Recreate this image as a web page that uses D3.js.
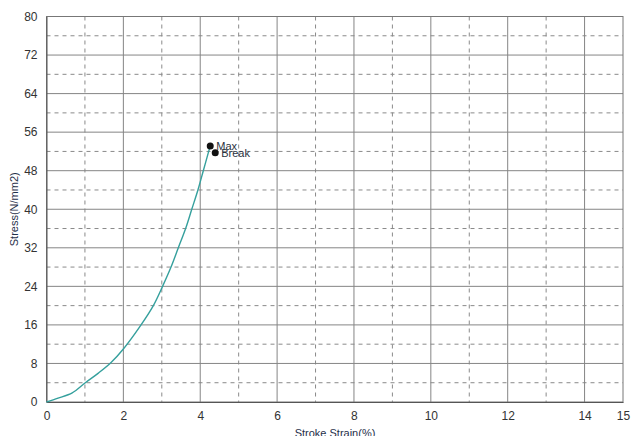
<!DOCTYPE html>
<html>
<head>
<meta charset="utf-8">
<script src="https://cdn.jsdelivr.net/npm/d3@7"></script>
<style>
  body { margin: 0; background: #fff; }
  text { font-family: "Liberation Sans", Arial, sans-serif; }
</style>
</head>
<body>
<svg id="chart" width="631" height="436"></svg>
<script>
// curve values (strain %, stress N/mm2)
const strain = [0, 0.3, 0.67, 1.01, 1.35, 1.68, 2.0, 2.46, 2.78, 3.02, 3.24, 3.43, 3.62, 3.78, 3.94, 4.08, 4.22, 4.26];
const stress = [0, 0.8, 1.9, 4.0, 6.0, 8.2, 11.0, 16.0, 20.0, 24.0, 28.0, 32.0, 36.0, 40.0, 44.0, 48.0, 52.0, 53.1];
const markers = [
  { name: "Max", x: 4.26, y: 53.1 },
  { name: "Break", x: 4.39, y: 51.7 }
];
const xTicks = [0, 2, 4, 6, 8, 10, 12, 14, 15];
const yTicks = [0, 8, 16, 24, 32, 40, 48, 56, 64, 72, 80];
const xMinor = [1, 3, 5, 7, 9, 11, 13];
const yMinor = [4, 12, 20, 28, 36, 44, 52, 60, 68, 76];

const mLeft = 46.5, mRight = 623, mTop = 16.5, mBottom = 402;

const svg = d3.select("#chart");
const x = d3.scaleLinear().domain([0, 15]).range([mLeft, mRight]);
const y = d3.scaleLinear().domain([0, 80]).range([mBottom, mTop]);

const grid = svg.append("g");

// dashed minor grid
grid.selectAll(".vx").data(xMinor).join("line")
  .attr("x1", d => x(d)).attr("x2", d => x(d))
  .attr("y1", mTop).attr("y2", mBottom)
  .attr("stroke", "#8a8a8a").attr("stroke-dasharray", "4,4");
grid.selectAll(".hy").data(yMinor).join("line")
  .attr("x1", mLeft).attr("x2", mRight)
  .attr("y1", d => y(d)).attr("y2", d => y(d))
  .attr("stroke", "#8a8a8a").attr("stroke-dasharray", "4,4");

// solid major grid
grid.selectAll(".mx").data(xTicks.filter(d => d > 0 && d < 15)).join("line")
  .attr("x1", d => x(d)).attr("x2", d => x(d))
  .attr("y1", mTop).attr("y2", mBottom)
  .attr("stroke", "#858585");
grid.selectAll(".my").data(yTicks.filter(d => d > 0 && d < 80)).join("line")
  .attr("x1", mLeft).attr("x2", mRight)
  .attr("y1", d => y(d)).attr("y2", d => y(d))
  .attr("stroke", "#858585");

// frame
svg.append("rect")
  .attr("x", mLeft).attr("y", mTop)
  .attr("width", mRight - mLeft).attr("height", mBottom - mTop)
  .attr("fill", "none").attr("stroke", "#777");

// axes (labels only)
const xAxis = svg.append("g")
  .attr("transform", `translate(0,${mBottom})`)
  .call(d3.axisBottom(x).tickValues(xTicks).tickSize(0).tickPadding(9).tickFormat(d3.format("d")));
xAxis.select(".domain").attr("stroke", "#555");
xAxis.selectAll("text").attr("font-size", 12).attr("fill", "#333")
  .attr("font-family", "Liberation Sans, Arial, sans-serif");

const yAxis = svg.append("g")
  .attr("transform", `translate(${mLeft},0)`)
  .call(d3.axisLeft(y).tickValues(yTicks).tickSize(0).tickPadding(9).tickFormat(d3.format("d")));
yAxis.select(".domain").attr("stroke", "#555");
yAxis.selectAll("text").attr("font-size", 12).attr("fill", "#333")
  .attr("font-family", "Liberation Sans, Arial, sans-serif");

// axis titles
svg.append("text")
  .attr("x", 335).attr("y", 437)
  .attr("text-anchor", "middle").attr("font-size", 11).attr("fill", "#1f2f4a")
  .text("Stroke Strain(%)");
svg.append("text")
  .attr("transform", `translate(18,${(mTop + mBottom) / 2}) rotate(-90)`)
  .attr("text-anchor", "middle").attr("font-size", 11).attr("fill", "#1f2f4a")
  .text("Stress(N/mm2)");

// curve
const pts = strain.map((s, i) => [s, stress[i]]);
svg.append("path")
  .datum(pts)
  .attr("fill", "none").attr("stroke", "#35a09d").attr("stroke-width", 1.4)
  .attr("d", d3.line().x(d => x(d[0])).y(d => y(d[1])).curve(d3.curveCatmullRom));

// markers
svg.selectAll(".mk").data(markers).join("circle")
  .attr("cx", d => x(d.x)).attr("cy", d => y(d.y)).attr("r", 3.5)
  .attr("fill", "#111");
svg.selectAll(".ml").data(markers).join("text")
  .attr("x", d => x(d.x) + 6).attr("y", d => y(d.y) + 4)
  .attr("font-size", 11).attr("fill", "#2a3240")
  .text(d => d.name);
</script>
</body>
</html>
